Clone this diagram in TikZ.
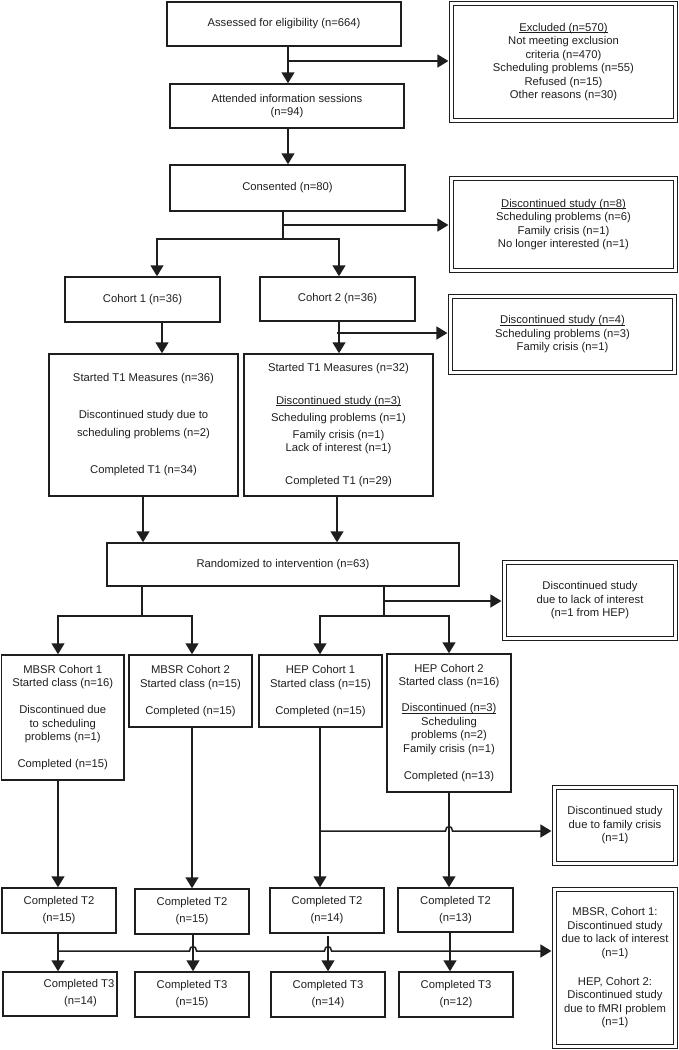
\documentclass[tikz,border=0pt]{standalone}
\usepackage{fontspec}
\setmainfont{Liberation Sans}
\usetikzlibrary{arrows.meta}
\definecolor{ink}{HTML}{1E1E1E}
\newcommand\diagfont{\fontsize{11.25pt}{13.5pt}\selectfont}
\newcommand\ulx[1]{\setbox0\hbox{#1}\rlap{\rule[-2pt]{\wd0}{0.7pt}}\box0}
\begin{document}
\begin{tikzpicture}[x=1pt,y=-1pt,
  box/.style={draw=ink, line width=1.5pt, inner sep=0pt, align=center, text=ink, font=\diagfont},
  dbox/.style={box, double, double distance=2.6pt, line width=1.15pt},
  txt/.style={inner sep=0pt, align=center, text=ink, font=\diagfont},
  ln/.style={draw=ink, line width=1.5pt},
  arr/.style={ln, -{Triangle[length=11pt,width=13pt]}},
  tod/.style={shorten >=2.5pt}
]
\useasboundingbox (0,0) rectangle (679,1050);

% main column boxes
\node[box, minimum width=234pt, minimum height=44pt] (A) at (284,24) {Assessed for eligibility (n=664)};
\node[box, minimum width=234pt, minimum height=44pt] (B) at (287,106) {Attended information sessions\\(n=94)};
\node[box, minimum width=235pt, minimum height=46pt] (C) at (287.5,188) {Consented (n=80)};
\node[box, minimum width=155pt, minimum height=45pt] (Co1) at (142.5,299.5) {Cohort 1 (n=36)};
\node[box, minimum width=155pt, minimum height=44pt] (Co2) at (337.5,299) {Cohort 2 (n=36)};
\node[box, minimum width=189pt, minimum height=142pt] (T1a) at (143.5,425) {Started T1 Measures (n=36)\\[23.5pt]Discontinued study due to\\[4.5pt]scheduling problems (n=2)\\[23.5pt]Completed T1 (n=34)};
\node[box, minimum width=189pt, minimum height=142pt] (T1b) at (338.5,425) {Started T1 Measures (n=32)\\[19.5pt]\ulx{Discontinued study (n=3)}\\[3.5pt]Scheduling problems (n=1)\\[3.5pt]Family crisis (n=1)\\Lack of interest (n=1)\\[19.5pt]Completed T1 (n=29)};
\node[box, minimum width=352pt, minimum height=43pt] (R) at (283,564.5) {Randomized to intervention (n=63)};

\node[box, minimum width=122.5pt, minimum height=125pt] (M1) at (62.75,717.5) {MBSR Cohort 1\\Started class (n=16)\\[13.5pt]Discontinued due\\to scheduling\\problems (n=1)\\[13.5pt]Completed (n=15)};
\node[box, minimum width=123pt, minimum height=72pt] (M2) at (190.5,691) {MBSR Cohort 2\\Started class (n=15)\\[13.5pt]Completed (n=15)};
\node[box, minimum width=123pt, minimum height=72pt] (H1) at (320.5,691) {HEP Cohort 1\\Started class (n=15)\\[13.5pt]Completed (n=15)};
\node[box, minimum width=124pt, minimum height=138pt] (H2) at (449,723) {HEP Cohort 2\\Started class (n=16)\\[12.5pt]\ulx{Discontinued (n=3)}\\Scheduling\\problems (n=2)\\Family crisis (n=1)\\[13.5pt]Completed (n=13)};

\node[box, minimum width=114pt, minimum height=45pt] (T2a) at (59,910.5) {Completed T2\\[3.5pt](n=15)};
\node[box, minimum width=114pt, minimum height=45pt] (T2b) at (192,911.5) {Completed T2\\[3.5pt](n=15)};
\node[box, minimum width=114pt, minimum height=45pt] (T2c) at (327,910.5) {Completed T2\\[3.5pt](n=14)};
\node[box, minimum width=115pt, minimum height=44pt] (T2d) at (455.5,910) {Completed T2\\[3.5pt](n=13)};

\node[box, minimum width=114pt, minimum height=44pt] (T3a) at (60,994) {};
\node[txt] (T3atext) at (79,993.5) {Completed T3\\[3.5pt]\hspace*{3pt}(n=14)};
\node[box, minimum width=114pt, minimum height=45pt] (T3b) at (192,994.5) {Completed T3\\[3.5pt](n=15)};
\node[box, minimum width=114pt, minimum height=45pt] (T3c) at (328,994.5) {Completed T3\\[3.5pt](n=14)};
\node[box, minimum width=114pt, minimum height=45pt] (T3d) at (456,994.5) {Completed T3\\[3.5pt](n=12)};

% side (double-framed) boxes
\node[dbox, minimum width=224pt, minimum height=117pt] (EX) at (563.5,62) {\ulx{Excluded (n=570)}\\Not meeting exclusion\\criteria (n=470)\\Scheduling problems (n=55)\\Refused (n=15)\\Other reasons (n=30)};
\node[dbox, minimum width=224pt, minimum height=92pt] (D8) at (563.5,224.5) {\ulx{Discontinued study (n=8)}\\Scheduling problems (n=6)\\Family crisis (n=1)\\No longer interested (n=1)};
\node[dbox, minimum width=224pt, minimum height=76pt] (D4) at (562.5,334.5) {\ulx{Discontinued study (n=4)}\\Scheduling problems (n=3)\\Family crisis (n=1)};
\node[dbox, minimum width=171pt, minimum height=76pt] (L1) at (590,600.5) {Discontinued study\\due to lack of interest\\(n=1 from HEP)};
\node[dbox, minimum width=121pt, minimum height=76pt] (FC) at (615,825.5) {Discontinued study\\due to family crisis\\(n=1)};
\node[dbox, minimum width=121pt, minimum height=157pt] (FIN) at (615,968) {MBSR, Cohort 1:\\Discontinued study\\due to lack of interest\\(n=1)\\[15.5pt]HEP, Cohort 2:\\Discontinued study\\due to fMRI problem\\(n=1)};

% junction coordinates
\coordinate (k1) at (288,61);
\coordinate (k2) at (283,225);
\coordinate (k3) at (283,239);
\coordinate (k4) at (157,239);
\coordinate (k5) at (339,239);
\coordinate (k6) at (162,0);
\coordinate (k7) at (339,333);
\coordinate (k8) at (143,0);
\coordinate (k9) at (337,0);
\coordinate (k10) at (142,616);
\coordinate (k11) at (58,616);
\coordinate (k12) at (192,616);
\coordinate (k13) at (384,616);
\coordinate (k14) at (384,601);
\coordinate (k15) at (320,616);
\coordinate (k16) at (449,616);
\coordinate (k17) at (320,831);
\coordinate (k18) at (58,951);
\coordinate (k19) at (193,0);
\coordinate (k20) at (328,0);
\coordinate (k21) at (450,0);

% connectors
\draw[arr] (k1 |- A.south) -- (k1 |- B.north);
\draw[arr, tod] (k1) -- (k1 -| EX.west);
\draw[arr] (k1 |- B.south) -- (k1 |- C.north);
\draw[ln] (k2 |- C.south) -- (k3);
\draw[arr, tod] (k2) -- (k2 -| D8.west);
\draw[arr] (k3) -- (k4) -- (k4 |- Co1.north);
\draw[arr] (k3) -- (k5) -- (k5 |- Co2.north);

\draw[arr] (Co1.south -| k6) -- (T1a.north -| k6);
\draw[arr] (Co2.south -| k7) -- (T1b.north -| k7);
\draw[arr, tod] ([xshift=-2pt]k7) -- (k7 -| D4.west);

\draw[arr] (T1a.south -| k8) -- (R.north -| k8);
\draw[arr] (T1b.south -| k9) -- (R.north -| k9);

\draw[arr] (R.south -| k10) -- (k10) -- (k11) -- (k11 |- M1.north);
\draw[arr] (k10) -- (k12) -- (k12 |- M2.north);
\draw[arr] (R.south -| k13) -- (k13) -- (k15) -- (k15 |- H1.north);
\draw[arr] (k13) -- (k16) -- (k16 |- H2.north);
\draw[arr, tod] (k14) -- (k14 -| L1.west);

\draw[arr] (M1.south -| k11) -- (T2a.north -| k11);
\draw[arr] (M2.south -| k12) -- (T2b.north -| k12);
\draw[arr] (H1.south -| k15) -- (T2c.north -| k15);
\draw[arr] (H2.south -| k16) -- (T2d.north -| k16);
\draw[arr, tod] (k17) -- (445.5,831) .. controls (445.5,825) and (452.5,825) .. (452.5,831) -- (k17 -| FC.west);

\draw[arr] (T2a.south -| k18) -- (T3a.north -| k18);
\draw[arr] (T2b.south -| k19) -- (T3b.north -| k19);
\draw[arr] ([yshift=-2pt]T2c.south -| k20) -- (T3c.north -| k20);
\draw[arr] (T2d.south -| k21) -- (T3d.north -| k21);
\draw[arr, tod] (k18) -- (189.5,951) .. controls (189.5,945) and (196.5,945) .. (196.5,951) -- (324.5,951) .. controls (324.5,945) and (331.5,945) .. (331.5,951) -- (k18 -| FIN.west);
\end{tikzpicture}
\end{document}
